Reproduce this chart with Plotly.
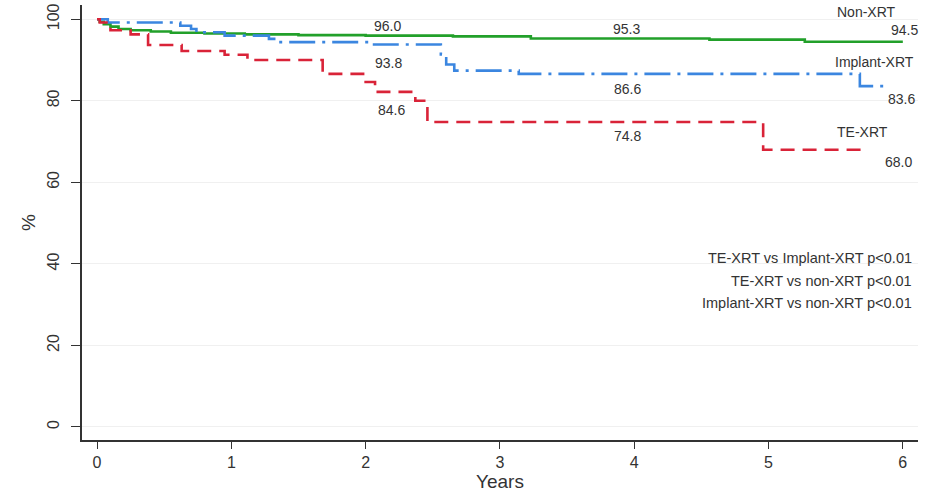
import plotly.graph_objects as go

# ---- data ----
te_t = [0, 0.02, 0.07, 0.10, 0.25, 0.38, 0.63, 0.95, 1.12, 1.68, 2.00, 2.07, 2.37, 2.46, 4.96, 5.72]
te_s = [100, 99.2, 98.0, 97.3, 96.3, 93.7, 92.2, 91.3, 90.0, 86.6, 84.6, 82.2, 80.0, 74.8, 68.0, 68.0]

imp_t = [0, 0.08, 0.62, 0.70, 0.74, 0.95, 1.28, 1.35, 2.02, 2.56, 2.60, 2.66, 3.14, 5.68, 5.89]
imp_s = [100, 99.2, 98.4, 97.6, 96.8, 96.0, 95.2, 94.4, 93.8, 91.4, 88.9, 87.4, 86.6, 83.6, 83.6]

non_t = [0, 0.02, 0.05, 0.10, 0.16, 0.25, 0.40, 0.55, 0.80, 1.10, 1.50, 2.00, 2.65, 3.23, 4.56, 5.27, 6.0]
non_s = [100, 99.4, 98.8, 98.2, 97.6, 97.3, 97.0, 96.7, 96.5, 96.3, 96.1, 96.0, 95.8, 95.3, 95.0, 94.5, 94.5]

value_labels = ["96.0", "95.3", "94.5", "93.8", "86.6", "83.6", "84.6", "74.8", "68.0"]
value_x = [2.16, 3.94, 6.01, 2.17, 3.95, 5.99, 2.19, 3.95, 5.97]
value_y = [98.3, 97.5, 97.3, 89.2, 82.8, 80.4, 77.7, 71.3, 65.0]

group_names = ["Non-XRT", "Implant-XRT", "TE-XRT"]
group_x = [5.73, 5.79, 5.70]
group_y = [101.9, 89.6, 72.3]

pvals = ["TE-XRT vs Implant-XRT p<0.01", "TE-XRT vs non-XRT p<0.01", "Implant-XRT vs non-XRT p<0.01"]
pval_y = [41.5, 35.7, 30.3]

x_ticks = [0, 1, 2, 3, 4, 5, 6]
y_ticks = [0, 20, 40, 60, 80, 100]

FONT = "Liberation Sans, Arial, Helvetica, sans-serif"
TXT = "#333333"

fig = go.Figure()
fig.add_trace(go.Scatter(x=non_t, y=non_s, mode="lines", line_shape="hv",
                         line=dict(color="#22a02a", width=2.6), name="Non-XRT"))
fig.add_trace(go.Scatter(x=imp_t, y=imp_s, mode="lines", line_shape="hv",
                         line=dict(color="#3b86e0", width=2.6, dash="26px,7px,3px,7px"), name="Implant-XRT"))
fig.add_trace(go.Scatter(x=te_t, y=te_s, mode="lines", line_shape="hv",
                         line=dict(color="#d92338", width=2.6, dash="14px,8px"), name="TE-XRT"))

for t, x, y in zip(value_labels, value_x, value_y):
    fig.add_annotation(x=x, y=y, text=t, showarrow=False, xanchor="center", yanchor="middle",
                       font=dict(family=FONT, size=14, color=TXT))
for t, x, y in zip(group_names, group_x, group_y):
    fig.add_annotation(x=x, y=y, text=t, showarrow=False, xanchor="center", yanchor="middle",
                       font=dict(family=FONT, size=14, color=TXT))
for t, y in zip(pvals, pval_y):
    fig.add_annotation(x=6.08, y=y, text=t, showarrow=False, xanchor="right", yanchor="middle",
                       font=dict(family=FONT, size=14.5, color=TXT))

fig.update_layout(
    width=939, height=498,
    margin=dict(l=82, r=21, t=5, b=58),
    paper_bgcolor="white", plot_bgcolor="white",
    showlegend=False,
    font=dict(family=FONT, color=TXT),
)
fig.update_xaxes(range=[-0.112, 6.113], tickvals=x_ticks, ticks="outside", ticklen=7, tickcolor="#333",
                 showline=True, linecolor="#333", linewidth=1.5, showgrid=False, zeroline=False,
                 automargin=False,
                 tickfont=dict(size=16, family=FONT, color=TXT),
                 title=dict(text="Years", font=dict(size=19, family=FONT, color=TXT), standoff=4))
fig.update_yaxes(range=[-3.2, 103.5], tickvals=y_ticks, ticks="outside", ticklen=9, tickcolor="#333",
                 showline=True, linecolor="#333", linewidth=1.5, showgrid=True, gridcolor="#f0f0f0",
                 zeroline=False, tickangle=-90, ticklabelstandoff=6, automargin=False,
                 tickfont=dict(size=16, family=FONT, color=TXT),
                 title=dict(text="%", font=dict(size=19, family=FONT, color=TXT), standoff=4))

fig.write_html("out.html", config={"displayModeBar": False},
               post_script="document.body.style.margin='0';document.body.style.overflow='hidden';")
